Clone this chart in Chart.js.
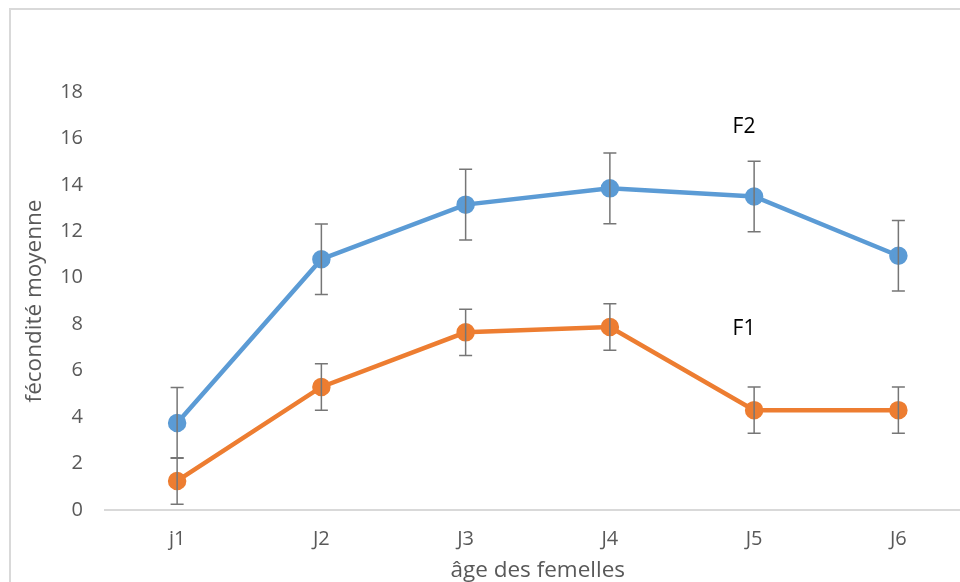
<!DOCTYPE html>
<html lang="fr">
<head>
<meta charset="UTF-8">
<title>fécondité moyenne</title>
<script src="https://cdn.jsdelivr.net/npm/chart.js"></script>
<style>
  html, body { margin: 0; padding: 0; background: #fff; overflow: hidden; }
  .cadre {
    position: absolute; left: 9px; top: 8px; width: 1000px; height: 700px;
    border-left: 2px solid #d9d9d9; border-top: 2px solid #d9d9d9;
  }
  #graphe { position: absolute; left: 0; top: 2px; }
</style>
</head>
<body>
<div class="cadre"></div>
<canvas id="graphe" width="982" height="582"></canvas>

<script>
var jours = ['j1', 'J2', 'J3', 'J4', 'J5', 'J6'];
var f2 = [3.75, 10.8, 13.15, 13.85, 13.5, 10.95];
var f2Erreur = [1.52, 1.52, 1.52, 1.52, 1.52, 1.52];
var f1 = [1.25, 5.3, 7.65, 7.88, 4.3, 4.3];
var f1Erreur = [1.0, 1.0, 1.0, 1.0, 1.0, 1.0];
var graduations = [0, 2, 4, 6, 8, 10, 12, 14, 16, 18];

// barres d'erreur + étiquettes F1 / F2
var barresErreur = {
  id: 'barresErreur',
  afterDatasetsDraw: function (chart) {
    var ctx = chart.ctx;
    var x = chart.scales.x, y = chart.scales.y;
    var series = [[f2, f2Erreur], [f1, f1Erreur]];
    ctx.save();
    ctx.strokeStyle = '#767676';
    ctx.lineWidth = 1.5;
    series.forEach(function (s) {
      for (var i = 0; i < s[0].length; i++) {
        var px = x.getPixelForValue(i);
        var haut = y.getPixelForValue(s[0][i] + s[1][i]);
        var bas = y.getPixelForValue(s[0][i] - s[1][i]);
        ctx.beginPath();
        ctx.moveTo(px, haut); ctx.lineTo(px, bas);
        ctx.moveTo(px - 6.5, haut); ctx.lineTo(px + 6.5, haut);
        ctx.moveTo(px - 6.5, bas); ctx.lineTo(px + 6.5, bas);
        ctx.stroke();
      }
    });
    ctx.fillStyle = '#000';
    ctx.font = '21px "Open Sans", sans-serif';
    ctx.textAlign = 'center';
    ctx.textBaseline = 'middle';
    ctx.fillText('F2', x.getPixelForValue(3.93), y.getPixelForValue(16.5));
    ctx.fillText('F1', x.getPixelForValue(3.93), y.getPixelForValue(7.8));
    ctx.restore();
  }
};

new Chart(document.getElementById('graphe'), {
  type: 'line',
  data: {
    labels: jours,
    datasets: [
      {
        label: 'F2',
        data: f2,
        borderColor: '#5b9bd5',
        backgroundColor: '#5b9bd5',
        borderWidth: 4.5,
        pointRadius: 7,
        pointHoverRadius: 7,
        tension: 0
      },
      {
        label: 'F1',
        data: f1,
        borderColor: '#ed7d31',
        backgroundColor: '#ed7d31',
        borderWidth: 4.5,
        pointRadius: 7,
        pointHoverRadius: 7,
        tension: 0
      }
    ]
  },
  options: {
    responsive: false,
    animation: false,
    layout: { padding: { top: 90, left: 0, right: 0, bottom: 0 } },
    plugins: {
      legend: { display: false },
      tooltip: { enabled: false }
    },
    scales: {
      x: {
        offset: true,
        grid: { display: false, drawTicks: false },
        border: { display: true, color: '#d9d9d9', width: 2 },
        ticks: {
          color: '#595959',
          font: { family: '"Open Sans", sans-serif', size: 20 },
          padding: 17
        },
        title: {
          display: true,
          text: 'âge des femelles',
          color: '#595959',
          font: { family: '"Open Sans", sans-serif', size: 22.5 },
          padding: { top: 0, bottom: 0 }
        },
        afterFit: function (s) { s.height = 74; }
      },
      y: {
        min: 0,
        max: 18,
        afterBuildTicks: function (s) {
          s.ticks = graduations.map(function (v) { return { value: v }; });
        },
        grid: { display: false, drawTicks: false },
        border: { display: false },
        ticks: {
          color: '#595959',
          font: { family: '"Open Sans", sans-serif', size: 20 },
          padding: 22
        },
        title: {
          display: true,
          text: 'fécondité moyenne',
          color: '#595959',
          font: { family: '"Open Sans", sans-serif', size: 22.5 },
          padding: { top: 21, bottom: 0 }
        },
        afterFit: function (s) { s.width = 105; }
      }
    }
  },
  plugins: [barresErreur]
});
</script>
</body>
</html>
